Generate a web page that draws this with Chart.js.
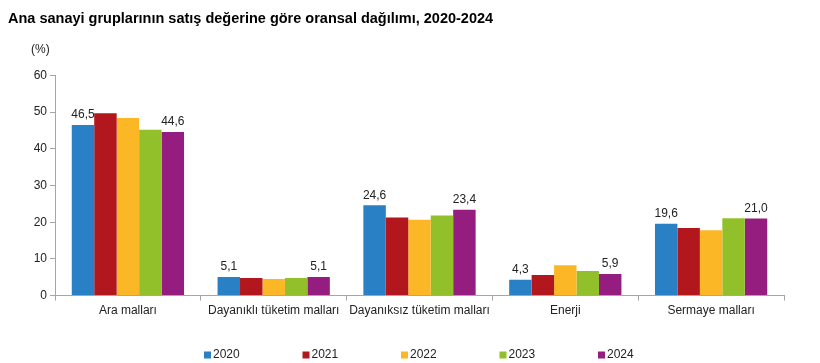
<!DOCTYPE html>
<html>
<head>
<meta charset="utf-8">
<script src="https://cdn.jsdelivr.net/npm/chart.js@4"></script>
<style>
  html, body { margin: 0; padding: 0; background: #fff; }
  #wrap { width: 820px; height: 363px; position: relative; }
</style>
</head>
<body>
<div id="wrap"><canvas id="chart"></canvas></div>
<script>
// Veriler
const kategoriler = ['Ara malları', 'Dayanıklı tüketim malları', 'Dayanıksız tüketim malları', 'Enerji', 'Sermaye malları'];
const yillar = ['2020', '2021', '2022', '2023', '2024'];
const deger2020 = [46.5, 5.1, 24.6, 4.3, 19.6];
const deger2021 = [49.7, 4.8, 21.3, 5.6, 18.4];
const deger2022 = [48.4, 4.5, 20.7, 8.3, 17.8];
const deger2023 = [45.2, 4.8, 21.8, 6.7, 21.1];
const deger2024 = [44.6, 5.1, 23.4, 5.9, 21.0];
const yTicks = [0, 10, 20, 30, 40, 50, 60];

const renkler = ['#2a80c4', '#b1171c', '#fbb726', '#92c02a', '#961d80'];
const fontAile = "'Liberation Sans', Arial, sans-serif";

// Sadece 2020 ve 2024 serilerinde değer etiketleri + (%) + lejant
const etiketPlugin = {
    id: 'etiketler',
    afterDatasetsDraw(chart) {
        const ctx = chart.ctx;
        ctx.save();
        ctx.font = '12px ' + fontAile;
        ctx.fillStyle = '#222';
        ctx.textAlign = 'center';
        ctx.textBaseline = 'bottom';
        [0, 4].forEach(function(i) {
            const meta = chart.getDatasetMeta(i);
            meta.data.forEach(function(bar, j) {
                const v = chart.data.datasets[i].data[j];
                ctx.fillText(v.toFixed(1).replace('.', ','), bar.x, bar.y - 4);
            });
        });
        // (%) birimi
        ctx.textAlign = 'left';
        ctx.textBaseline = 'middle';
        ctx.fillText('(%)', 31, 50);

        // Lejant (alt kısım)
        const legendY = 355;
        chart.data.datasets.forEach(function(ds, i) {
            const x = 204 + i * 98.5;
            ctx.fillStyle = ds.backgroundColor;
            ctx.fillRect(x, legendY - 3.5, 7, 7);
            ctx.fillStyle = '#222';
            ctx.fillText(ds.label, x + 9, legendY);
        });
        ctx.restore();
    }
};

new Chart(document.getElementById('chart'), {
    type: 'bar',
    data: {
        labels: kategoriler,
        datasets: [
            { label: yillar[0], data: deger2020, backgroundColor: renkler[0] },
            { label: yillar[1], data: deger2021, backgroundColor: renkler[1] },
            { label: yillar[2], data: deger2022, backgroundColor: renkler[2] },
            { label: yillar[3], data: deger2023, backgroundColor: renkler[3] },
            { label: yillar[4], data: deger2024, backgroundColor: renkler[4] }
        ]
    },
    options: {
        responsive: true,
        maintainAspectRatio: false,
        animation: false,
        datasets: {
            bar: { categoryPercentage: 0.77, barPercentage: 1.0 }
        },
        layout: { padding: { left: 8, right: 36, top: 0, bottom: 42 } },
        scales: {
            x: {
                offset: true,
                grid: { display: true, drawOnChartArea: false, offset: true, tickLength: 5, color: '#a6a6a6' },
                border: { color: '#a6a6a6' },
                ticks: { color: '#222', font: { size: 12, family: fontAile }, padding: 3, maxRotation: 0, autoSkip: false }
            },
            y: {
                min: 0,
                max: 60,
                afterBuildTicks: function(scale) {
                    scale.ticks = yTicks.map(function(v) { return { value: v }; });
                },
                afterFit: function(scale) { scale.width = 47; },
                grid: { display: true, drawOnChartArea: false, tickLength: 5, color: '#a6a6a6' },
                border: { color: '#a6a6a6' },
                ticks: { color: '#222', font: { size: 12, family: fontAile }, padding: 3 }
            }
        },
        plugins: {
            title: {
                display: true,
                text: 'Ana sanayi gruplarının satış değerine göre oransal dağılımı, 2020-2024',
                align: 'start',
                color: '#000',
                font: { size: 14.5, weight: 'bold', family: fontAile },
                padding: { top: 10, bottom: 48 }
            },
            legend: { display: false },
            tooltip: { enabled: false }
        }
    },
    plugins: [etiketPlugin]
});
</script>
</body>
</html>
